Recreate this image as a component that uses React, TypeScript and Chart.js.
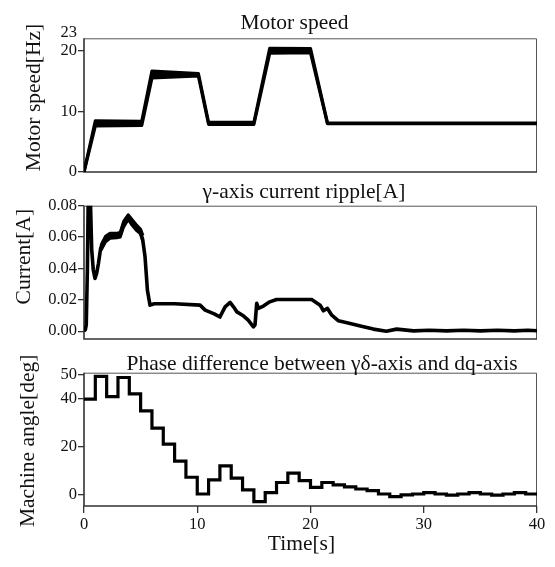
import React, { useEffect, useRef } from 'react';
import { Chart, registerables } from 'chart.js';

Chart.register(...registerables);

const FONT = "'Liberation Serif', 'Times New Roman', serif";
const INK = '#111';
Chart.defaults.font.family = FONT;
Chart.defaults.color = INK;

// ---------- Panel 1: Motor speed ----------
const speedTimes = [0, 1.0, 5.1, 6.0, 10.1, 11.0, 15.0, 16.4, 20.0, 21.5, 40];
const speedUpper = [0, 8.4, 8.35, 16.6, 16.2, 8.15, 8.15, 20.35, 20.3, 8.05, 8.05];
const speedLower = [0, 7.6, 7.65, 15.5, 15.8, 7.85, 7.85, 19.55, 19.65, 7.95, 7.95];
const speedTicks = [0, 10, 20, 23];

// ---------- Panel 2: γ-axis current ripple ----------
const currentTimes = [
  0, 0.12, 0.2, 0.3, 0.4, 0.55, 0.68, 0.82, 0.97, 1.12, 1.27, 1.47, 1.65, 1.86, 2.3, 2.9,
  3.2, 3.47, 3.7, 3.91, 4.21, 4.5, 4.95, 5.18, 5.39, 5.6, 5.83, 6.2, 8.0, 10.25, 10.7, 11.5,
  12.0, 12.46, 12.9, 13.2, 13.5, 14.07, 14.5, 14.96, 15.1, 15.25, 15.4, 15.84, 16.4, 17.0,
  20.1, 20.85, 21.14, 21.5, 21.88, 22.47, 23.5, 24.5, 25.55, 26.7, 27.6, 29.1, 30.5, 32.0,
  33.5, 35.0, 36.5, 38.0, 39.2, 40,
];
const currentValues = [
  0, 0.001, 0.004, 0.04, 0.1, 0.088, 0.052, 0.039, 0.0336, 0.037, 0.043, 0.0528, 0.0565,
  0.059, 0.0608, 0.061, 0.0615, 0.068, 0.0715, 0.0728, 0.0698, 0.0663, 0.0635, 0.0585,
  0.0474, 0.026, 0.0166, 0.0175, 0.0175, 0.0166, 0.0134, 0.011, 0.009, 0.0155, 0.0183,
  0.0155, 0.0123, 0.0098, 0.007, 0.0028, 0.004, 0.0177, 0.0145, 0.016, 0.0187, 0.0202,
  0.0202, 0.0166, 0.013, 0.0145, 0.0102, 0.0066, 0.0049, 0.0032, 0.0013, 0.0, 0.0013,
  0.0002, 0.0006, 0.0002, 0.0006, 0.0002, 0.0006, 0.0002, 0.0006, 0.0003,
];
const currentBandTimes = [1.5, 1.9, 2.3, 2.9, 3.2, 3.5, 3.9, 4.2, 4.6, 5.0, 5.2];
const currentBandUpper = [0.0545, 0.0605, 0.0625, 0.0625, 0.063, 0.0700, 0.0742, 0.0715, 0.068, 0.065, 0.061];
const currentBandLower = [0.0515, 0.057, 0.0592, 0.0595, 0.060, 0.0665, 0.0712, 0.068, 0.0645, 0.062, 0.057];
const currentTicks = [0, 0.02, 0.04, 0.06, 0.08];

// ---------- Panel 3: Phase difference ----------
const phaseStepTimes = [
  0, 1, 2, 3, 4, 5, 6, 7, 8, 9, 10, 11, 12, 13, 14, 15, 16, 17, 18, 19,
  20, 21, 22, 23, 24, 25, 26, 27, 28, 29, 30, 31, 32, 33, 34, 35, 36, 37, 38, 39,
];
const phaseValues = [
  40, 49.5, 41, 49, 42.2, 35.1, 27.9, 21.2, 14.1, 7.4, 0.4, 6.3, 12.1, 7.0, 2.1, -2.8,
  1.0, 5.2, 9.1, 6.0, 3.2, 5.2, 4.2, 3.4, 2.5, 1.8, 0.4, -0.7, 0.0, 0.4, 1.0, 0.4, -0.1,
  0.4, 1.0, 0.4, -0.1, 0.4, 1.0, 0.4,
];
const phaseEnd = 40;
const phaseTicks = [0, 20, 40, 50];
const timeTicks = [0, 10, 20, 30, 40];

type TextItem = { text: string; x: number; y: number; rotate?: boolean; size?: number };

function textPlugin(items: TextItem[]) {
  return {
    id: 'panelTexts',
    afterDraw(chart: any) {
      const ctx = chart.ctx;
      ctx.save();
      ctx.fillStyle = INK;
      for (const it of items) {
        ctx.font = `${it.size ?? 21.5}px ${FONT}`;
        ctx.save();
        ctx.translate(it.x, it.y);
        if (it.rotate) {
          ctx.rotate(-Math.PI / 2);
          ctx.textAlign = 'center';
          ctx.textBaseline = 'middle';
        } else {
          ctx.textAlign = 'center';
          ctx.textBaseline = 'alphabetic';
        }
        ctx.fillText(it.text, 0, 0);
        ctx.restore();
      }
      ctx.restore();
    },
  };
}

const framePlugin = {
  id: 'frame',
  beforeDatasetsDraw(chart: any) {
    const { ctx, chartArea: a } = chart;
    ctx.save();
    ctx.strokeStyle = '#555';
    ctx.lineWidth = 1;
    ctx.beginPath();
    ctx.moveTo(a.left, a.top + 0.5);
    ctx.lineTo(a.right - 0.5, a.top + 0.5);
    ctx.lineTo(a.right - 0.5, a.bottom);
    ctx.stroke();
    ctx.strokeStyle = '#333';
    ctx.lineWidth = 1.6;
    ctx.beginPath();
    ctx.moveTo(a.left, a.top);
    ctx.lineTo(a.left, a.bottom);
    ctx.lineTo(a.right, a.bottom);
    ctx.stroke();
    ctx.restore();
  },
};

const tickFont = { family: FONT, size: 16.5, style: 'normal', weight: 'normal', lineHeight: 1.2 };

function yScale(min: number, max: number, ticks: number[], fmt: (v: number) => string, hidden: number[] = []) {
  return {
    type: 'linear',
    min,
    max,
    afterBuildTicks: (s: any) => {
      s.ticks = ticks.map((v) => ({ value: v }));
    },
    afterFit: (s: any) => {
      s.width = 84;
      s.paddingTop = 0;
      s.paddingBottom = 0;
    },
    ticks: {
      autoSkip: false,
      font: tickFont,
      color: INK,
      padding: 1,
      callback: (v: any) => fmt(Number(v)),
    },
    grid: {
      drawOnChartArea: false,
      drawTicks: true,
      tickLength: 6,
      lineWidth: 1.3,
      tickColor: (c: any) => (c.tick && hidden.includes(c.tick.value) ? 'rgba(0,0,0,0)' : '#333'),
    },
    border: { display: false },
  };
}

const baseOptions = {
  responsive: false,
  animation: false,
  events: [],
  plugins: { legend: { display: false }, tooltip: { enabled: false }, title: { display: false } },
  elements: { point: { radius: 0 }, line: { tension: 0 } },
};

export default function App() {
  const c1 = useRef<HTMLCanvasElement>(null);
  const c2 = useRef<HTMLCanvasElement>(null);
  const c3 = useRef<HTMLCanvasElement>(null);

  useEffect(() => {
    const charts: Chart[] = [];

    // Panel 1
    charts.push(
      new Chart(c1.current as HTMLCanvasElement, {
        type: 'line',
        data: {
          datasets: [
            {
              data: speedTimes.map((t, i) => ({ x: t, y: speedLower[i] })),
              borderColor: '#000',
              borderWidth: 3.2,
              borderJoinStyle: 'round',
              fill: false,
              clip: 0,
            },
            {
              data: speedTimes.map((t, i) => ({ x: t, y: speedUpper[i] })),
              borderColor: '#000',
              backgroundColor: '#000',
              borderWidth: 3.2,
              borderJoinStyle: 'round',
              fill: '-1',
              clip: 0,
            },
          ],
        },
        options: {
          ...baseOptions,
          layout: { padding: { left: 0, right: 18, top: 38.3, bottom: 13 } },
          scales: {
            x: { type: 'linear', min: 0, max: 40, display: false },
            y: yScale(0, 22, speedTicks, (v) => String(v), [23]),
          },
        } as any,
        plugins: [
          framePlugin,
          textPlugin([
            { text: 'Motor speed', x: 294.5, y: 28.5 },
            { text: 'Motor speed[Hz]', x: 34, y: 97.5, rotate: true },
          ]),
        ],
      } as any)
    );

    // Panel 2
    charts.push(
      new Chart(c2.current as HTMLCanvasElement, {
        type: 'line',
        data: {
          datasets: [
            {
              data: currentTimes.map((t, i) => ({ x: t, y: currentValues[i] })),
              borderColor: '#000',
              borderWidth: 3.6,
              borderJoinStyle: 'round',
              fill: false,
              clip: 0,
            },
            {
              data: currentBandTimes.map((t, i) => ({ x: t, y: currentBandLower[i] })),
              borderColor: '#000',
              borderWidth: 3,
              borderJoinStyle: 'round',
              fill: false,
              clip: 0,
            },
            {
              data: currentBandTimes.map((t, i) => ({ x: t, y: currentBandUpper[i] })),
              borderColor: '#000',
              backgroundColor: '#000',
              borderWidth: 3,
              borderJoinStyle: 'round',
              fill: '-1',
              clip: 0,
            },
          ],
        },
        options: {
          ...baseOptions,
          layout: { padding: { left: 0, right: 18, top: 30.7, bottom: 11 } },
          scales: {
            x: { type: 'linear', min: 0, max: 40, display: false },
            y: yScale(-0.005, 0.08, currentTicks, (v) => v.toFixed(2)),
          },
        } as any,
        plugins: [
          framePlugin,
          textPlugin([
            { text: 'γ-axis current ripple[A]', x: 304, y: 22.5 },
            { text: 'Current[A]', x: 24, y: 81.7, rotate: true },
          ]),
        ],
      } as any)
    );

    // Panel 3
    const phaseData = phaseStepTimes.map((t, i) => ({ x: t, y: phaseValues[i] }));
    phaseData.push({ x: phaseEnd, y: phaseValues[phaseValues.length - 1] });
    charts.push(
      new Chart(c3.current as HTMLCanvasElement, {
        type: 'line',
        data: {
          datasets: [
            {
              data: phaseData,
              borderColor: '#000',
              borderWidth: 3.2,
              stepped: 'before',
              fill: false,
              clip: 0,
            },
          ],
        },
        options: {
          ...baseOptions,
          layout: { padding: { left: 0, right: 18, top: 30.7, bottom: 0 } },
          scales: {
            x: {
              type: 'linear',
              min: 0,
              max: 40,
              afterBuildTicks: (s: any) => {
                s.ticks = timeTicks.map((v) => ({ value: v }));
              },
              afterFit: (s: any) => {
                s.height = 61;
                s.paddingLeft = 0;
                s.paddingRight = 0;
              },
              ticks: {
                autoSkip: false,
                maxRotation: 0,
                font: tickFont,
                color: INK,
                padding: 2,
              },
              grid: { drawOnChartArea: false, drawTicks: true, tickLength: 7, lineWidth: 1.3, tickColor: '#333' },
              border: { display: false },
            },
            y: yScale(-4.6, 51, phaseTicks, (v) => String(v)),
          },
        } as any,
        plugins: [
          framePlugin,
          textPlugin([
            { text: 'Phase difference between γδ-axis and dq-axis', x: 322, y: 28 },
            { text: 'Machine angle[deg]', x: 28.3, y: 98.8, rotate: true },
            { text: 'Time[s]', x: 301.5, y: 208 },
          ]),
        ],
      } as any)
    );

    return () => charts.forEach((c) => c.destroy());
  }, []);

  return (
    <div style={{ position: 'fixed', left: 0, top: 0, width: 555, height: 567, background: '#fff' }}>
      <canvas ref={c1} width={555} height={185} style={{ position: 'absolute', left: 0, top: 0 }} />
      <canvas ref={c2} width={555} height={175} style={{ position: 'absolute', left: 0, top: 175 }} />
      <canvas ref={c3} width={555} height={225} style={{ position: 'absolute', left: 0, top: 342 }} />
    </div>
  );
}
